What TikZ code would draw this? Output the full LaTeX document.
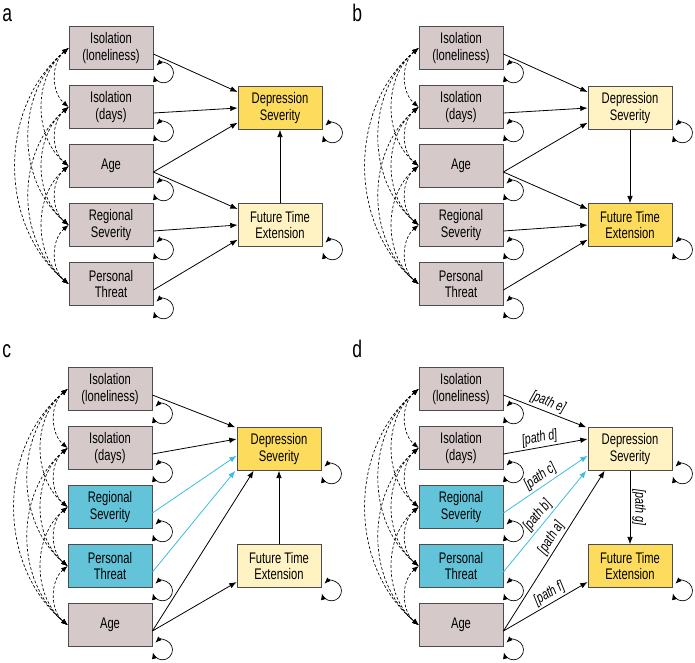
\documentclass[tikz,border=0pt]{standalone}
\usepackage{fontspec}
\setmainfont{Liberation Sans}[FakeStretch=0.73]
\usetikzlibrary{arrows.meta}
\definecolor{predgray}{HTML}{D5C9CA}
\definecolor{outyel}{HTML}{FDDB5C}
\definecolor{outpale}{HTML}{FFF3C3}
\definecolor{focusblue}{HTML}{63C3D9}
\definecolor{linkblue}{HTML}{3BBCE3}
\tikzset{
  box/.style={draw=black!70,line width=0.6pt,minimum width=63pt,minimum height=32pt,
    align=center,inner sep=1pt,font=\fontsize{11.5}{12.5}\selectfont},
  pred/.style={box,fill=predgray},
  hot/.style={box,fill=outyel},
  pale/.style={box,fill=outpale},
  focus/.style={box,fill=focusblue},
  link/.style={-{Latex[length=5.5pt,width=4.2pt]},line width=0.6pt},
  bluelink/.style={link,draw=linkblue},
  cov/.style={{Latex[length=4.8pt,width=3.8pt]}-{Latex[length=4.8pt,width=3.8pt]},
    dash pattern=on 2pt off 1.5pt,line width=0.5pt},
  resid/.style={{Latex[length=4.8pt,width=3.8pt]}-{Latex[length=4.8pt,width=3.8pt]},line width=0.5pt},
  lp/.style={font=\itshape\fontsize{11}{13}\selectfont,sloped,above,inner sep=1.5pt},
  tag/.style={anchor=base west,inner sep=0pt,font=\fontsize{18}{20}\selectfont}
}
\newcommand{\selfloop}[1]{\draw[resid] ([xshift=2.25pt,yshift=3pt]#1.south east)
  arc[start angle=135,end angle=-165,radius=7.5pt];}

\begin{document}
\begin{tikzpicture}[x=0.75pt,y=-0.75pt]
  \useasboundingbox (0,0) rectangle (695,662);
  % a: depression <- future time
  \begin{scope}
    \node[tag] at (2,21) {a};
    \foreach \t/\s [count=\i] in {{Isolation\\(loneliness)}/pred,{Isolation\\(days)}/pred,
        Age/pred,{Regional\\Severity}/pred,{Personal\\Threat}/pred}
      \node[\s] (a\i) at (111,{48+59*(\i-1)}) {\t};
    \node[hot] (aD) at (280,108) {Depression\\Severity};
    \node[pale] (aF) at (280,225) {Future Time\\Extension};
    \foreach \i/\j in {1/2,1/3,1/4,1/5,2/3,2/4,2/5,3/4,3/5,4/5}
      \draw[cov] (a\i.west) to[bend right=50] (a\j.west);
    \foreach \n in {a1,a2,a3,a4,a5,aD,aF} {\selfloop{\n}}
    \draw[link] ([yshift=-4.5pt]a1.east) -- ([yshift=12pt]aD.west);
    \draw[link] ([yshift=-4.5pt]a2.east) -- (aD.west);
    \draw[link] ([yshift=-4.5pt]a3.east) -- ([yshift=-11pt]aD.west);
    \draw[link] ([yshift=-4.5pt]a3.east) -- ([yshift=12pt]aF.west);
    \draw[link] ([yshift=-4.5pt]a4.east) -- (aF.west);
    \draw[link] ([yshift=-4.5pt]a5.east) -- ([yshift=-11pt]aF.west);
    \draw[link] (aF.north) -- (aD.south);
  \end{scope}
  % b: future time <- depression
  \begin{scope}[shift={(350,0)}]
    \node[tag] at (2,21) {b};
    \foreach \t/\s [count=\i] in {{Isolation\\(loneliness)}/pred,{Isolation\\(days)}/pred,
        Age/pred,{Regional\\Severity}/pred,{Personal\\Threat}/pred}
      \node[\s] (b\i) at (111,{48+59*(\i-1)}) {\t};
    \node[pale] (bD) at (280,108) {Depression\\Severity};
    \node[hot] (bF) at (280,225) {Future Time\\Extension};
    \foreach \i/\j in {1/2,1/3,1/4,1/5,2/3,2/4,2/5,3/4,3/5,4/5}
      \draw[cov] (b\i.west) to[bend right=50] (b\j.west);
    \foreach \n in {b1,b2,b3,b4,b5,bD,bF} {\selfloop{\n}}
    \draw[link] ([yshift=-4.5pt]b1.east) -- ([yshift=12pt]bD.west);
    \draw[link] ([yshift=-4.5pt]b2.east) -- (bD.west);
    \draw[link] ([yshift=-4.5pt]b3.east) -- ([yshift=-11pt]bD.west);
    \draw[link] ([yshift=-4.5pt]b3.east) -- ([yshift=12pt]bF.west);
    \draw[link] ([yshift=-4.5pt]b4.east) -- (bF.west);
    \draw[link] ([yshift=-4.5pt]b5.east) -- ([yshift=-11pt]bF.west);
    \draw[link] (bD.south) -- (bF.north);
  \end{scope}
  % c: threat measures highlighted
  \begin{scope}[shift={(-1,341)}]
    \node[tag] at (3,16) {c};
    \foreach \t/\s [count=\i] in {{Isolation\\(loneliness)}/pred,{Isolation\\(days)}/pred,
        {Regional\\Severity}/focus,{Personal\\Threat}/focus,Age/pred}
      \node[\s] (c\i) at (111,{48+59*(\i-1)}) {\t};
    \node[hot] (cD) at (280,108) {Depression\\Severity};
    \node[pale] (cF) at (280,225) {Future Time\\Extension};
    \foreach \i/\j in {1/2,1/3,1/4,1/5,2/3,2/4,2/5,3/4,3/5,4/5}
      \draw[cov] (c\i.west) to[bend right=50] (c\j.west);
    \foreach \n in {c1,c2,c3,c4,c5,cD,cF} {\selfloop{\n}}
    \draw[link] ([yshift=-4.5pt]c1.east) -- ([xshift=-1pt]cD.north west);
    \draw[link] ([yshift=-4.5pt]c2.east) -- ([yshift=7.5pt]cD.west);
    \draw[bluelink] ([yshift=-4.5pt]c3.east) -- ([yshift=-5pt]cD.west);
    \draw[bluelink] ([yshift=-4.5pt]c4.east) -- ([xshift=-1pt]cD.south west);
    \draw[link] ([yshift=-4.5pt]c5.east) -- ([xshift=-19pt]cD.south);
    \draw[link] ([yshift=-4.5pt]c5.east) -- ([yshift=-12pt]cF.west);
    \draw[link] (cF.north) -- (cD.south);
  \end{scope}
  % d: same, with path labels
  \begin{scope}[shift={(350,341)}]
    \node[tag] at (2,16) {d};
    \foreach \t/\s [count=\i] in {{Isolation\\(loneliness)}/pred,{Isolation\\(days)}/pred,
        {Regional\\Severity}/focus,{Personal\\Threat}/focus,Age/pred}
      \node[\s] (d\i) at (111,{48+59*(\i-1)}) {\t};
    \node[pale] (dD) at (280,108) {Depression\\Severity};
    \node[hot] (dF) at (280,225) {Future Time\\Extension};
    \foreach \i/\j in {1/2,1/3,1/4,1/5,2/3,2/4,2/5,3/4,3/5,4/5}
      \draw[cov] (d\i.west) to[bend right=50] (d\j.west);
    \foreach \n in {d1,d2,d3,d4,d5,dD,dF} {\selfloop{\n}}
    \draw[link] ([yshift=-4.5pt]d1.east) -- node[lp] {[path e]} ([xshift=-1pt]dD.north west);
    \draw[link] ([yshift=-4.5pt]d2.east) -- node[lp,pos=0.45] {[path d]} ([yshift=7.5pt]dD.west);
    \draw[bluelink] ([yshift=-4.5pt]d3.east) -- node[lp,text=black] {[path c]} ([yshift=-5pt]dD.west);
    \draw[bluelink] ([yshift=-4.5pt]d4.east) -- node[lp,text=black] {[path b]} ([xshift=-1pt]dD.south west);
    \draw[link] ([yshift=-4.5pt]d5.east) -- node[lp,pos=0.55] {[path a]} ([xshift=-19pt]dD.south);
    \draw[link] ([yshift=-4.5pt]d5.east) -- node[lp,pos=0.6] {[path f]} ([yshift=-12pt]dF.west);
    \draw[link] (dD.south) -- node[lp] {[path g]} (dF.north);
  \end{scope}
\end{tikzpicture}
\end{document}
